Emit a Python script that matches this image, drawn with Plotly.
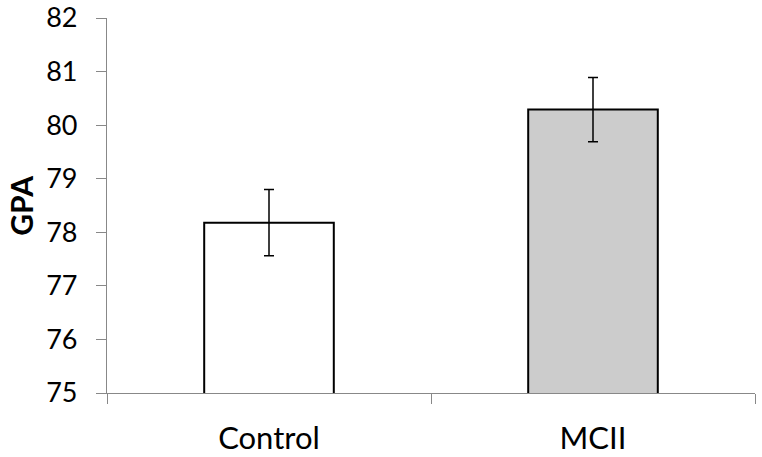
import plotly.graph_objects as go

groups = ["Control", "MCII"]
gpa = [78.18, 80.29]
err = [0.62, 0.60]
fills = ["#ffffff", "#cccccc"]

axis_grey = "#888888"

fig = go.Figure(go.Bar(
    x=groups, y=gpa,
    width=0.4,
    marker=dict(color=fills, line=dict(color="black", width=2)),
    error_y=dict(type="data", array=err, color="black", thickness=1.5, width=5),
))

fig.update_layout(
    width=762, height=457,
    margin=dict(l=107, r=7, t=18, b=64),
    plot_bgcolor="white", paper_bgcolor="white",
    font=dict(family="Lato, Open Sans, sans-serif", size=27, color="black"),
    showlegend=False,
    xaxis=dict(
        automargin=False,
        showline=True, linecolor=axis_grey, linewidth=1.2,
        ticks="outside", tickson="boundaries", ticklen=10,
        tickcolor=axis_grey, tickwidth=1.2,
        tickfont=dict(size=31),
        ticklabelstandoff=18,
        showgrid=False,
    ),
    yaxis=dict(
        automargin=False,
        range=[75, 82], dtick=1,
        showline=True, linecolor=axis_grey, linewidth=1.2,
        ticks="outside", ticklen=10, tickcolor=axis_grey, tickwidth=1.2,
        ticklabelstandoff=13,
        ticklabeloverflow="allow",
        showgrid=False, zeroline=False,
    ),
)

# y title placed by hand so the margin stays fixed
fig.add_annotation(
    text="<b>GPA</b>", textangle=-90,
    xref="paper", yref="paper", x=-0.134, y=0.5,
    xanchor="center", yanchor="middle", showarrow=False,
    font=dict(size=30),
)

# drop the default 8px body margin so the figure fills the window
fig.write_html("out.html", config={"displayModeBar": False},
               post_script="document.body.style.margin='0';")
